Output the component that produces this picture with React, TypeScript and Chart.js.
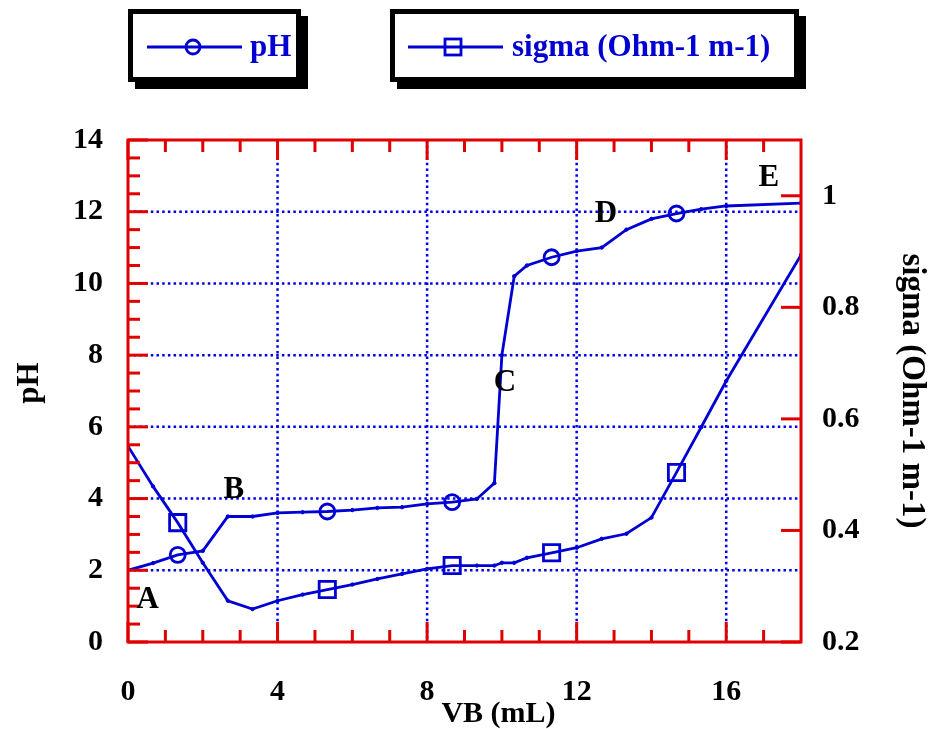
import { useEffect, useRef } from "react";
import { Chart, registerables } from "chart.js";

Chart.register(...registerables);

// ---- data ----
const volumeML = [0, 0.67, 1.33, 2, 2.67, 3.33, 4, 4.67, 5.33, 6, 6.67, 7.33, 8, 8.67, 9.33, 9.8, 10, 10.33, 10.67, 11.33, 12, 12.67, 13.33, 14, 14.67, 15.33, 16, 18];
const pHValues = [2.0, 2.2, 2.43, 2.54, 3.5, 3.5, 3.6, 3.62, 3.64, 3.68, 3.74, 3.76, 3.85, 3.9, 3.99, 4.43, 8.0, 10.2, 10.5, 10.73, 10.9, 11.0, 11.5, 11.8, 11.95, 12.07, 12.16, 12.24];
const sigmaValues = [0.551, 0.479, 0.414, 0.342, 0.274, 0.259, 0.274, 0.285, 0.294, 0.303, 0.313, 0.322, 0.331, 0.337, 0.337, 0.337, 0.342, 0.342, 0.351, 0.36, 0.369, 0.385, 0.394, 0.423, 0.504, 0.585, 0.668, 0.894];
const markerIndices = [2, 8, 13, 19, 24];

// ---- ticks ----
const xTickLabels = [0, 4, 8, 12, 16];
const xMinorTicks = [1, 2, 3, 5, 6, 7, 9, 10, 11, 13, 14, 15, 17];
const pHTickLabels = [0, 2, 4, 6, 8, 10, 12, 14];
const pHMinorTicks = [0.5, 1, 1.5, 2.5, 3, 3.5, 4.5, 5, 5.5, 6.5, 7, 7.5, 8.5, 9, 9.5, 10.5, 11, 11.5, 12.5, 13, 13.5];
const sigmaTickLabels = [0.2, 0.4, 0.6, 0.8, 1];
const xGridValues = [4, 8, 12, 16];
const pHGridValues = [2, 4, 6, 8, 10, 12];

// ---- annotations ----
const pointLabels = ["A", "B", "C", "D", "E"];
const pointLabelX = [0.53, 2.83, 10.08, 12.78, 17.14];
const pointLabelY = [1.17, 4.24, 7.22, 11.94, 12.94];

const RED = "#e00000";
const BLUE = "rgb(0,0,210)";
const GRID_BLUE = "rgb(0,0,235)";
const FONT = "'Liberation Serif', 'Times New Roman', serif";

function line(ctx: CanvasRenderingContext2D, x1: number, y1: number, x2: number, y2: number) {
  ctx.beginPath();
  ctx.moveTo(x1, y1);
  ctx.lineTo(x2, y2);
  ctx.stroke();
}

function drawLegendBox(
  ctx: CanvasRenderingContext2D,
  left: number,
  right: number,
  symbol: "circle" | "rect",
  text: string,
  lineStart: number,
  lineEnd: number,
  markerX: number,
  textX: number
) {
  const top = 9;
  const bottom = 82;
  const sh = 7;
  ctx.save();
  ctx.fillStyle = "#000";
  ctx.fillRect(left + sh, top + sh, right - left, bottom - top);
  ctx.fillStyle = "#fff";
  ctx.fillRect(left, top, right - left, bottom - top);
  ctx.strokeStyle = "#000";
  ctx.lineWidth = 5;
  ctx.strokeRect(left + 2.5, top + 2.5, right - left - 5, bottom - top - 5);
  const cy = 47;
  ctx.strokeStyle = BLUE;
  ctx.lineWidth = 2.8;
  line(ctx, lineStart, cy, lineEnd, cy);
  if (symbol === "circle") {
    ctx.beginPath();
    ctx.arc(markerX, cy, 7, 0, Math.PI * 2);
    ctx.stroke();
  } else {
    ctx.strokeRect(markerX - 8, cy - 8, 16, 16);
  }
  ctx.fillStyle = BLUE;
  ctx.font = `bold 31px ${FONT}`;
  ctx.textAlign = "left";
  ctx.textBaseline = "middle";
  ctx.fillText(text, textX, cy + 1);
  ctx.restore();
}

const overlayPlugin = {
  id: "overlay",
  beforeDatasetsDraw(chart: any) {
    const { ctx, chartArea: a, scales } = chart;
    const xs = scales.x;
    const ys = scales.y;
    ctx.save();
    ctx.strokeStyle = GRID_BLUE;
    ctx.lineWidth = 2.5;
    ctx.setLineDash([2.5, 3.2]);
    for (const v of xGridValues) {
      const px = xs.getPixelForValue(v);
      line(ctx, px, a.top, px, a.bottom);
    }
    for (const v of pHGridValues) {
      const py = ys.getPixelForValue(v);
      line(ctx, a.left, py, a.right, py);
    }
    ctx.restore();
  },
  afterDatasetsDraw(chart: any) {
    const { ctx, chartArea: a, scales } = chart;
    const xs = scales.x;
    const ys = scales.y;
    const y1 = scales.y1;
    ctx.save();
    ctx.strokeStyle = RED;
    ctx.lineWidth = 3;
    ctx.setLineDash([]);
    ctx.strokeRect(a.left, a.top, a.right - a.left, a.bottom - a.top);
    const major = 20;
    const minor = 12;
    for (const v of xTickLabels) {
      const px = xs.getPixelForValue(v);
      line(ctx, px, a.bottom, px, a.bottom - major);
      line(ctx, px, a.top, px, a.top + major);
    }
    for (const v of xMinorTicks) {
      const px = xs.getPixelForValue(v);
      line(ctx, px, a.bottom, px, a.bottom - minor);
      line(ctx, px, a.top, px, a.top + minor);
    }
    for (const v of pHTickLabels) {
      const py = ys.getPixelForValue(v);
      line(ctx, a.left, py, a.left + major, py);
    }
    for (const v of pHMinorTicks) {
      const py = ys.getPixelForValue(v);
      line(ctx, a.left, py, a.left + minor, py);
    }
    for (const v of sigmaTickLabels) {
      const py = y1.getPixelForValue(v);
      line(ctx, a.right, py, a.right - major, py);
    }
    // annotations A-E
    ctx.fillStyle = "#000";
    ctx.font = `bold 31px ${FONT}`;
    ctx.textAlign = "center";
    ctx.textBaseline = "middle";
    pointLabels.forEach((t, i) => {
      ctx.fillText(t, xs.getPixelForValue(pointLabelX[i]), ys.getPixelForValue(pointLabelY[i]));
    });
    ctx.restore();
  },
  afterDraw(chart: any) {
    const { ctx, chartArea: a } = chart;
    ctx.save();
    ctx.fillStyle = "#000";
    ctx.textAlign = "center";
    ctx.textBaseline = "middle";
    const cy = (a.top + a.bottom) / 2;
    // left title
    ctx.font = `bold 31px ${FONT}`;
    ctx.save();
    ctx.translate(a.left - 98, cy - 8);
    ctx.rotate(-Math.PI / 2);
    ctx.fillText("pH", 0, 0);
    ctx.restore();
    // right title
    ctx.font = `bold 33px ${FONT}`;
    ctx.save();
    ctx.translate(a.right + 111, cy);
    ctx.rotate(Math.PI / 2);
    ctx.fillText("sigma (Ohm-1 m-1)", 0, 0);
    ctx.restore();
    // bottom title
    ctx.font = `bold 30px ${FONT}`;
    ctx.fillText("VB (mL)", (a.left + a.right) / 2 + 34, a.bottom + 72);
    ctx.restore();
    // legend
    drawLegendBox(ctx, 128, 301, "circle", "pH", 147, 242, 193, 250);
    drawLegendBox(ctx, 390, 799, "rect", "sigma (Ohm-1 m-1)", 408, 503, 453, 512);
  },
};

export default function App() {
  const canvasRef = useRef<HTMLCanvasElement | null>(null);

  useEffect(() => {
    document.body.style.margin = "0";
    const canvas = canvasRef.current;
    if (!canvas) return;
    const isMarker = (ctx: any) => markerIndices.includes(ctx.dataIndex);
    const tickFont = { family: FONT, weight: "bold" as const, size: 30 };

    const chart = new Chart(canvas, {
      type: "line",
      data: {
        datasets: [
          {
            label: "pH",
            data: volumeML.map((v, i) => ({ x: v, y: pHValues[i] })),
            yAxisID: "y",
            borderColor: BLUE,
            borderWidth: 2.8,
            tension: 0,
            pointStyle: "circle",
            pointRadius: (c: any) => (isMarker(c) ? 7.5 : 1.7),
            pointBorderWidth: (c: any) => (isMarker(c) ? 2.8 : 1),
            pointBorderColor: BLUE,
            pointBackgroundColor: (c: any) => (isMarker(c) ? "rgba(0,0,0,0)" : BLUE),
          },
          {
            label: "sigma (Ohm-1 m-1)",
            data: volumeML.map((v, i) => ({ x: v, y: sigmaValues[i] })),
            yAxisID: "y1",
            borderColor: BLUE,
            borderWidth: 2.8,
            tension: 0,
            pointStyle: (c: any) => (isMarker(c) ? "rect" : "circle"),
            pointRadius: (c: any) => (isMarker(c) ? 11.5 : 1.7),
            pointBorderWidth: (c: any) => (isMarker(c) ? 2.8 : 1),
            pointBorderColor: BLUE,
            pointBackgroundColor: (c: any) => (isMarker(c) ? "rgba(0,0,0,0)" : BLUE),
          },
        ],
      },
      options: {
        responsive: false,
        animation: false,
        events: [],
        layout: { padding: { top: 140, left: 0, right: 0, bottom: 0 } },
        plugins: { legend: { display: false }, tooltip: { enabled: false }, title: { display: false } },
        scales: {
          x: {
            type: "linear",
            position: "bottom",
            min: 0,
            max: 18,
            grid: { display: false, drawTicks: false },
            border: { display: false },
            afterBuildTicks: (s: any) => {
              s.ticks = xTickLabels.map((v) => ({ value: v }));
            },
            afterFit: (s: any) => {
              s.height = 87;
            },
            ticks: {
              font: tickFont,
              color: "#000",
              padding: 32,
              maxRotation: 0,
              autoSkip: false,
              callback: (v: any) => String(v),
            },
          },
          y: {
            type: "linear",
            position: "left",
            min: 0,
            max: 14,
            grid: { display: false, drawTicks: false },
            border: { display: false },
            afterBuildTicks: (s: any) => {
              s.ticks = pHTickLabels.map((v) => ({ value: v }));
            },
            afterFit: (s: any) => {
              s.width = 128;
            },
            ticks: { font: tickFont, color: "#000", padding: 25, autoSkip: false, callback: (v: any) => String(v) },
          },
          y1: {
            type: "linear",
            position: "right",
            min: 0.2,
            max: 1.1,
            grid: { display: false, drawTicks: false },
            border: { display: false },
            afterBuildTicks: (s: any) => {
              s.ticks = sigmaTickLabels.map((v) => ({ value: v }));
            },
            afterFit: (s: any) => {
              s.width = 131;
            },
            ticks: {
              font: tickFont,
              color: "#000",
              padding: 21,
              autoSkip: false,
              callback: (v: any) => String(Math.round(Number(v) * 10) / 10),
            },
          },
        },
      },
      plugins: [overlayPlugin],
    });

    return () => {
      chart.destroy();
    };
  }, []);

  return (
    <div style={{ width: 932, height: 729, background: "#fff" }}>
      <canvas ref={canvasRef} width={932} height={729} style={{ display: "block" }} />
    </div>
  );
}
